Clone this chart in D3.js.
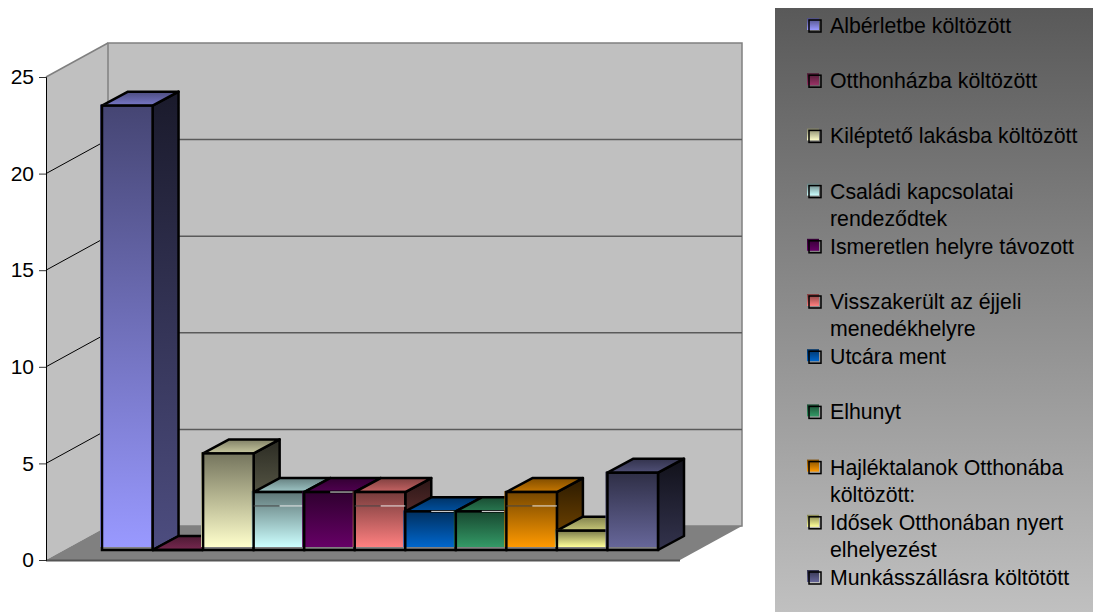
<!DOCTYPE html>
<html>
<head>
<meta charset="utf-8">
<title>Chart</title>
<script src="https://cdn.jsdelivr.net/npm/d3@7"></script>
<style>
  html, body { margin: 0; padding: 0; background: #fff; }
  svg { display: block; }
  text { font-family: "Liberation Sans", Arial, sans-serif; fill: #000; }
</style>
</head>
<body>
<script>
  'use strict';

  var categories = [
    'Albérletbe költözött',
    'Otthonházba költözött',
    'Kiléptető lakásba költözött',
    'Családi kapcsolatai rendeződtek',
    'Ismeretlen helyre távozott',
    'Visszakerült az éjjeli menedékhelyre',
    'Utcára ment',
    'Elhunyt',
    'Hajléktalanok Otthonába költözött:',
    'Idősek Otthonában nyert elhelyezést',
    'Munkásszállásra költötött'
  ];
  var values = [23, 0, 5, 3, 3, 3, 2, 2, 3, 1, 4];
  var yTicks = [0, 5, 10, 15, 20, 25];
  var colors = ['#9999ff', '#993366', '#ffffcc', '#ccffff', '#660066', '#ff8080',
    '#0066cc', '#339966', '#ff9900', '#ffff99', '#666699'];
  // bars that show a stray render line across the front face in the original
  var seamBars = [3, 5, 8];
  var glintBars = [4, 6, 7];

  var width = 1093,
      height = 613;

  // 3d projection of the old chart: wall depth and bar depth, in pixels
  var wallDx = 62, wallDy = -34,
      barDx = 26, barDy = -14,
      barInsetY = -10,
      seamValue = 2.28,
      outline = 2.5;

  var svg = d3.select('body').append('svg')
    .attr('width', width)
    .attr('height', height);
  var defs = svg.append('defs');

  var y = d3.scaleLinear().domain([0, 25]).range([560, 77]);
  var x = d3.scaleBand().domain(d3.range(values.length)).range([102, 658]);

  function shade(color, k) {
    var c = d3.rgb(color);
    return d3.rgb(c.r * k, c.g * k, c.b * k).formatHex();
  }

  function gradient(id, top, bottom) {
    var g = defs.append('linearGradient').attr('id', id)
      .attr('x1', 0).attr('y1', 0).attr('x2', 0).attr('y2', 1);
    g.append('stop').attr('offset', 0).attr('stop-color', top);
    g.append('stop').attr('offset', 1).attr('stop-color', bottom);
    return 'url(#' + id + ')';
  }

  function poly(points) {
    return points.map(function(p) { return p.join(','); }).join(' ');
  }

  /* walls and floor */
  var x0 = 46, x1 = 680, y0 = y(0), yTop = y(25);
  var walls = svg.append('g');

  walls.append('polygon')
    .attr('points', poly([[x0, y0], [x0, yTop], [x0 + wallDx, yTop + wallDy], [x0 + wallDx, y0 + wallDy]]))
    .attr('fill', '#c0c0c0');
  walls.append('rect')
    .attr('x', x0 + wallDx).attr('y', yTop + wallDy)
    .attr('width', x1 - x0).attr('height', y0 - yTop)
    .attr('fill', '#c0c0c0')
    .attr('stroke', '#808080').attr('stroke-width', 1.5);
  walls.append('polyline')
    .attr('points', poly([[x0, yTop], [x0 + wallDx, yTop + wallDy]]))
    .attr('fill', 'none').attr('stroke', '#808080').attr('stroke-width', 1.5);
  walls.append('polygon')
    .attr('points', poly([[x0, y0], [x0 + wallDx, y0 + wallDy], [x1 + wallDx, y0 + wallDy], [x1, y0]]))
    .attr('fill', '#808080');
  walls.append('line')
    .attr('x1', x0).attr('x2', x1).attr('y1', y0 + 0.5).attr('y2', y0 + 0.5)
    .attr('stroke', '#555').attr('stroke-width', 2);

  // gridlines, side wall then back wall
  walls.selectAll('.grid-side').data(yTicks.slice(1, 5)).enter().append('line')
    .attr('class', 'grid-side')
    .attr('x1', x0).attr('y1', y)
    .attr('x2', x0 + wallDx).attr('y2', function(d) { return y(d) + wallDy; })
    .attr('stroke', '#000').attr('stroke-width', 1);
  walls.selectAll('.grid-back').data(yTicks.slice(1, 5)).enter().append('line')
    .attr('class', 'grid-back')
    .attr('x1', x0 + wallDx).attr('x2', x1 + wallDx)
    .attr('y1', function(d) { return y(d) + wallDy; })
    .attr('y2', function(d) { return y(d) + wallDy; })
    .attr('stroke', '#5a5a5a').attr('stroke-width', 1.5);

  /* axis */
  var axis = d3.axisLeft(y).tickValues(yTicks).tickSize(7).tickPadding(5);
  var axisG = svg.append('g').attr('transform', 'translate(' + x0 + ',0)').call(axis);
  axisG.selectAll('text').style('font-size', '21px')
    .style('font-family', '"Liberation Sans", Arial, sans-serif');
  axisG.selectAll('line').attr('stroke', '#333');
  axisG.select('.domain').attr('stroke', '#000').attr('stroke-width', 1);

  /* bars, painted left to right so each one overlaps the side of the last */
  var bars = svg.append('g').selectAll('g').data(values).enter().append('g');

  bars.each(function(v, i) {
    var g = d3.select(this),
        left = x(i),
        w = x.bandwidth(),
        base = y(0) + barInsetY,
        top = y(v) + barInsetY,
        color = colors[i];

    var sideFill = gradient('side' + i, shade(color, 0.17), shade(color, 0.5));
    var topFill = gradient('top' + i, shade(color, 0.5), shade(color, 0.78));
    var frontFill = gradient('front' + i, shade(color, 0.45), color);

    // gradient fill sits a little off the outline, as in the original
    if (v > 0) {
      g.append('polygon')
        .attr('points', poly([[left + w, top], [left + w + barDx, top + barDy], [left + w + barDx, base + barDy], [left + w, base]]))
        .attr('fill', sideFill)
        .attr('stroke', '#000').attr('stroke-width', outline).attr('stroke-linejoin', 'round');
    }
    g.append('polygon')
      .attr('points', poly([[left, top], [left + barDx, top + barDy], [left + w + barDx, top + barDy], [left + w, top]]))
      .attr('fill', topFill)
      .attr('stroke', '#000').attr('stroke-width', outline).attr('stroke-linejoin', 'round');
    if (v > 0) {
      g.append('rect')
        .attr('x', left).attr('y', top).attr('width', w).attr('height', base - top)
        .attr('fill', '#808080');
      g.append('rect')
        .attr('x', left - 2).attr('y', top - 1).attr('width', w + 1).attr('height', base - top - 2)
        .attr('fill', frontFill);
      g.append('rect')
        .attr('x', left).attr('y', top).attr('width', w).attr('height', base - top)
        .attr('fill', 'none')
        .attr('stroke', '#000').attr('stroke-width', outline);
    } else {
      g.append('line')
        .attr('x1', left).attr('x2', left + w).attr('y1', base).attr('y2', base)
        .attr('stroke', '#000').attr('stroke-width', outline);
    }

    if (seamBars.indexOf(i) >= 0) {
      var seamY = y(seamValue) + barInsetY;
      g.append('line')
        .attr('x1', left).attr('x2', left + barDx).attr('y1', seamY).attr('y2', seamY)
        .attr('stroke', '#444').attr('stroke-width', 1);
      g.append('line')
        .attr('x1', left + barDx).attr('x2', left + w).attr('y1', seamY).attr('y2', seamY)
        .attr('stroke', '#e8e8e8').attr('stroke-width', 1);
    }
    if (glintBars.indexOf(i) >= 0) {
      g.append('line')
        .attr('x1', left + barDx).attr('x2', left + w - 2).attr('y1', top).attr('y2', top)
        .attr('stroke', '#e8e8e8').attr('stroke-width', 1);
    }
  });

  /* legend */
  var legendX = 775, legendY = 8;
  var legendFill = gradient('legendBg', '#595959', '#c0c0c0');
  var legend = svg.append('g');

  legend.append('rect')
    .attr('x', legendX).attr('y', legendY)
    .attr('width', width - legendX).attr('height', height - legendY - 1)
    .attr('fill', legendFill);

  var rowY = d3.scalePoint().domain(d3.range(categories.length)).range([26, 578]);

  var rows = legend.selectAll('g.row').data(categories).enter().append('g')
    .attr('class', 'row')
    .attr('transform', function(d, i) { return 'translate(809,' + rowY(i) + ')'; });

  rows.append('rect')
    .attr('x', -2).attr('y', -8).attr('width', 12).attr('height', 12)
    .attr('fill', function(d, i) { return gradient('swatch' + i, shade(colors[i], 0.5), colors[i]); });
  rows.append('rect')
    .attr('x', 0).attr('y', -6).attr('width', 12).attr('height', 12)
    .attr('fill', 'none').attr('stroke', '#000').attr('stroke-width', 1.5);

  rows.each(function(label) {
    var text = d3.select(this).append('text')
      .attr('x', 21).attr('y', 7)
      .style('font-size', '21.3px');
    var words = label.split(' '),
        tspan = text.append('tspan').attr('x', 21),
        line = [];
    // wrap by measuring, legend column is about 255px wide
    words.forEach(function(word) {
      line.push(word);
      tspan.text(line.join(' '));
      if (tspan.node().getComputedTextLength() > 255 && line.length > 1) {
        line.pop();
        tspan.text(line.join(' '));
        line = [word];
        tspan = text.append('tspan').attr('x', 21).attr('dy', 27).text(word);
      }
    });
  });
</script>
</body>
</html>
